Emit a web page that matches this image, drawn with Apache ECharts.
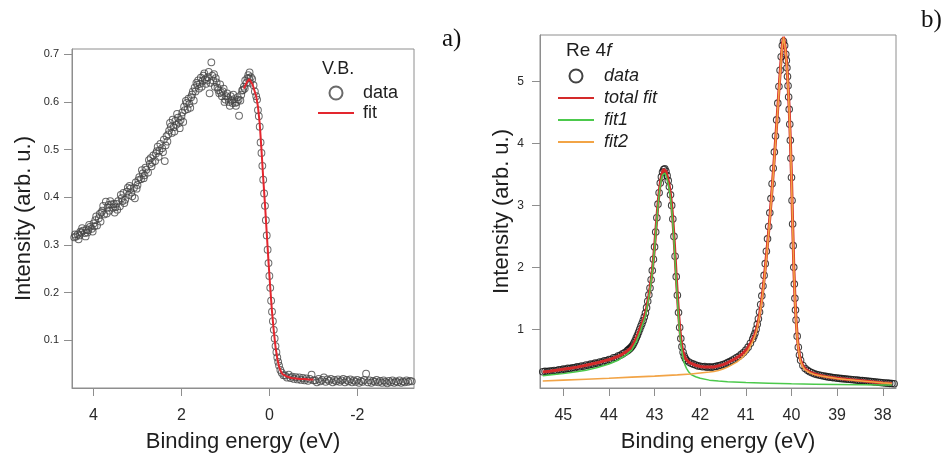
<!DOCTYPE html>
<html>
<head>
<meta charset="utf-8">
<script src="https://cdn.jsdelivr.net/npm/echarts@6/dist/echarts.min.js"></script>
<style>
  html, body { margin: 0; padding: 0; background: #ffffff; }
  #chart { width: 947px; height: 458px; }
</style>
</head>
<body>
<div id="chart"></div>
<script>
// ---- Panel a): valence band spectrum, [binding energy (eV), intensity] ----
const vbData = [
  [4.44,0.316],[4.42,0.322],[4.40,0.318],[4.36,0.322],[4.34,0.312],[4.32,0.320],[4.28,0.326],[4.26,0.335],
  [4.24,0.330],[4.20,0.325],[4.18,0.318],[4.16,0.333],[4.12,0.331],[4.10,0.342],[4.08,0.338],[4.04,0.334],
  [4.02,0.328],[4.00,0.345],[3.96,0.352],[3.94,0.360],[3.92,0.341],[3.88,0.356],[3.86,0.365],[3.84,0.349],
  [3.80,0.372],[3.78,0.382],[3.76,0.364],[3.72,0.391],[3.70,0.366],[3.68,0.378],[3.64,0.372],[3.62,0.392],
  [3.60,0.385],[3.56,0.378],[3.54,0.386],[3.52,0.368],[3.48,0.386],[3.46,0.374],[3.44,0.392],[3.40,0.381],
  [3.38,0.405],[3.36,0.398],[3.32,0.409],[3.30,0.388],[3.28,0.395],[3.24,0.412],[3.22,0.420],[3.20,0.405],
  [3.16,0.418],[3.14,0.410],[3.12,0.402],[3.08,0.420],[3.06,0.398],[3.04,0.431],[3.00,0.426],[2.98,0.436],
  [2.96,0.442],[2.92,0.438],[2.90,0.457],[2.88,0.450],[2.84,0.446],[2.82,0.462],[2.80,0.458],[2.76,0.452],
  [2.74,0.478],[2.72,0.470],[2.68,0.465],[2.66,0.473],[2.64,0.488],[2.60,0.476],[2.58,0.492],[2.56,0.497],
  [2.52,0.485],[2.50,0.498],[2.48,0.512],[2.44,0.503],[2.42,0.495],[2.40,0.521],[2.38,0.476],[2.36,0.509],
  [2.34,0.528],[2.32,0.517],[2.28,0.540],[2.26,0.556],[2.24,0.548],[2.20,0.563],[2.18,0.547],[2.16,0.538],
  [2.12,0.552],[2.10,0.575],[2.08,0.567],[2.04,0.545],[2.02,0.562],[2.00,0.570],[1.96,0.558],[1.94,0.590],
  [1.92,0.583],[1.88,0.598],[1.86,0.585],[1.84,0.607],[1.80,0.588],[1.78,0.610],[1.76,0.615],[1.72,0.603],
  [1.70,0.630],[1.68,0.622],[1.64,0.636],[1.62,0.645],[1.60,0.628],[1.56,0.651],[1.54,0.632],[1.52,0.644],
  [1.48,0.660],[1.46,0.648],[1.44,0.638],[1.40,0.652],[1.38,0.663],[1.36,0.618],[1.32,0.683],[1.30,0.655],
  [1.28,0.645],[1.24,0.632],[1.22,0.650],[1.20,0.641],[1.16,0.625],[1.14,0.618],[1.12,0.637],[1.08,0.612],
  [1.06,0.622],[1.04,0.628],[1.00,0.605],[0.98,0.612],[0.96,0.618],[0.92,0.600],[0.90,0.592],[0.88,0.612],
  [0.84,0.598],[0.82,0.615],[0.80,0.606],[0.76,0.592],[0.74,0.600],[0.72,0.610],[0.69,0.571],[0.66,0.603],
  [0.64,0.615],[0.62,0.624],[0.58,0.632],[0.56,0.628],[0.55,0.645],[0.52,0.640],[0.50,0.650],[0.48,0.656],
  [0.45,0.662],[0.44,0.640],[0.42,0.652],[0.39,0.648],[0.36,0.635],[0.33,0.622],[0.30,0.612],[0.28,0.605],
  [0.26,0.583],[0.24,0.570],[0.22,0.548],[0.20,0.515],[0.18,0.493],[0.16,0.466],[0.14,0.437],[0.12,0.408],
  [0.10,0.382],[0.08,0.352],[0.06,0.320],[0.04,0.290],[0.02,0.262],[0.00,0.235],[-0.02,0.210],[-0.04,0.183],
  [-0.06,0.160],[-0.08,0.140],[-0.10,0.122],[-0.12,0.104],[-0.14,0.088],[-0.16,0.075],[-0.18,0.064],
  [-0.20,0.055],[-0.22,0.047],[-0.25,0.038],[-0.28,0.032],[-0.32,0.027],[-0.36,0.026],[-0.40,0.022],
  [-0.44,0.028],[-0.48,0.021],[-0.52,0.024],[-0.56,0.019],[-0.60,0.023],[-0.64,0.018],[-0.68,0.022],
  [-0.72,0.017],[-0.76,0.021],[-0.80,0.016],[-0.84,0.020],[-0.88,0.015],[-0.92,0.019],[-0.96,0.028],
  [-1.00,0.016],[-1.04,0.016],[-1.08,0.012],[-1.12,0.019],[-1.16,0.014],[-1.20,0.017],[-1.24,0.022],
  [-1.28,0.013],[-1.32,0.018],[-1.36,0.015],[-1.40,0.019],[-1.44,0.012],[-1.48,0.017],[-1.52,0.014],
  [-1.56,0.018],[-1.60,0.013],[-1.64,0.016],[-1.68,0.019],[-1.72,0.012],[-1.76,0.017],[-1.80,0.014],
  [-1.84,0.018],[-1.88,0.012],[-1.92,0.016],[-1.96,0.013],[-2.00,0.017],[-2.04,0.011],[-2.08,0.015],
  [-2.12,0.013],[-2.16,0.017],[-2.20,0.030],[-2.24,0.012],[-2.28,0.016],[-2.32,0.011],[-2.36,0.015],
  [-2.40,0.013],[-2.44,0.017],[-2.48,0.012],[-2.52,0.015],[-2.56,0.011],[-2.60,0.016],[-2.64,0.013],
  [-2.68,0.010],[-2.72,0.015],[-2.76,0.012],[-2.80,0.016],[-2.84,0.011],[-2.88,0.014],[-2.92,0.012],
  [-2.96,0.016],[-3.00,0.011],[-3.04,0.014],[-3.08,0.012],[-3.12,0.016],[-3.16,0.013],[-3.20,0.015],
  [-3.24,0.014],
  [4.30,0.328],[4.14,0.326],[3.98,0.339],[3.82,0.368],[3.66,0.384],[3.50,0.379],[3.34,0.392],[3.18,0.424],
  [3.02,0.418],[2.86,0.440],[2.70,0.482],[2.54,0.506],[2.30,0.532],[2.22,0.535],[2.14,0.560],[2.06,0.556],
  [1.98,0.578],[1.90,0.602],[1.82,0.596],[1.74,0.622],[1.66,0.640],[1.58,0.638],[1.50,0.655],[1.42,0.645],
  [1.34,0.640],[1.26,0.658],[1.18,0.630],[1.10,0.620],[1.02,0.600],[0.94,0.608],[0.86,0.603],[0.78,0.598],
  [0.70,0.605],[0.60,0.625],[0.46,0.650]
];

// Fermi-edge fit
const vbFit = [
  [0.58,0.628],[0.52,0.640],[0.46,0.648],[0.42,0.645],[0.38,0.636],[0.34,0.624],[0.30,0.612],[0.26,0.590],
  [0.22,0.555],[0.18,0.500],[0.14,0.440],[0.10,0.385],[0.06,0.325],[0.02,0.265],[-0.02,0.210],[-0.06,0.160],
  [-0.10,0.120],[-0.14,0.086],[-0.18,0.062],[-0.22,0.045],[-0.26,0.035],[-0.30,0.029],[-0.40,0.024],
  [-0.50,0.021],[-0.60,0.020],[-0.70,0.019],[-0.80,0.019],[-0.90,0.018],[-1.00,0.018]
];

// ---- Panel b): Re 4f core level, [binding energy (eV), intensity] ----
const reData = [
  [45.45,0.315],[45.40,0.322],[45.35,0.318],[45.30,0.328],[45.25,0.325],[45.20,0.336],[45.15,0.332],
  [45.10,0.348],[45.05,0.344],[45.00,0.358],[44.95,0.355],[44.90,0.369],[44.85,0.366],[44.80,0.381],
  [44.75,0.378],[44.70,0.394],[44.65,0.392],[44.60,0.408],[44.55,0.405],[44.50,0.424],[44.45,0.420],
  [44.40,0.438],[44.35,0.436],[44.30,0.455],[44.25,0.452],[44.20,0.473],[44.15,0.470],[44.10,0.492],
  [44.05,0.490],[44.00,0.514],[43.95,0.512],[43.90,0.540],[43.85,0.546],[43.80,0.570],[43.75,0.580],
  [43.70,0.603],[43.65,0.625],
  [43.600,0.652],[43.575,0.668],[43.550,0.684],[43.525,0.700],[43.500,0.722],[43.475,0.748],[43.450,0.782],
  [43.425,0.818],[43.400,0.862],[43.375,0.905],[43.350,0.952],[43.325,1.000],[43.300,1.050],[43.275,1.095],
  [43.250,1.142],[43.225,1.200],[43.200,1.262],[43.175,1.350],[43.150,1.452],[43.125,1.556],[43.100,1.668],
  [43.075,1.800],[43.050,1.948],[43.025,2.130],[43.000,2.330],[42.975,2.570],[42.950,2.800],[42.925,3.020],
  [42.900,3.205],[42.875,3.360],[42.850,3.460],[42.825,3.540],[42.800,3.580],[42.775,3.590],[42.750,3.550],
  [42.725,3.480],[42.700,3.400],[42.675,3.300],[42.650,3.170],[42.625,3.000],[42.600,2.780],[42.575,2.500],
  [42.550,2.180],[42.525,1.850],[42.500,1.550],[42.475,1.270],[42.450,1.030],[42.425,0.850],[42.400,0.720],
  [42.375,0.630],[42.350,0.570],[42.325,0.530],[42.300,0.500],
  [42.25,0.472],[42.20,0.452],[42.15,0.438],[42.10,0.425],[42.05,0.410],[42.00,0.405],[41.95,0.396],
  [41.90,0.398],[41.85,0.388],[41.80,0.394],[41.75,0.386],[41.70,0.395],[41.65,0.402],[41.60,0.412],
  [41.55,0.420],[41.50,0.433],[41.45,0.445],[41.40,0.462],[41.35,0.478],[41.30,0.502],[41.25,0.520],
  [41.20,0.545],[41.15,0.565],[41.10,0.595],[41.05,0.625],[41.00,0.665],[40.95,0.712],[40.90,0.775],
  [40.85,0.845],
  [40.825,0.890],[40.800,0.935],[40.775,1.000],[40.750,1.080],[40.725,1.170],[40.700,1.280],[40.675,1.400],
  [40.650,1.540],[40.625,1.700],[40.600,1.870],[40.575,2.060],[40.550,2.260],[40.525,2.460],[40.500,2.660],
  [40.475,2.880],[40.450,3.110],[40.425,3.350],[40.400,3.600],[40.375,3.860],[40.350,4.120],[40.325,4.380],
  [40.300,4.650],[40.275,4.920],[40.250,5.180],[40.225,5.400],[40.200,5.580],[40.175,5.650],[40.150,5.580],
  [40.125,5.440],[40.1125,5.340],[40.100,5.220],[40.0875,5.080],[40.075,4.930],[40.0625,4.750],[40.050,4.550],
  [40.0375,4.310],[40.025,4.050],[40.0125,3.760],[40.000,3.450],[39.9875,3.080],[39.975,2.700],[39.9625,2.350],
  [39.950,2.000],[39.9375,1.730],[39.925,1.500],[39.9125,1.310],[39.900,1.150],[39.875,0.890],[39.850,0.710],
  [39.825,0.585],[39.800,0.500],
  [39.75,0.415],[39.70,0.368],[39.65,0.338],[39.60,0.315],[39.55,0.298],[39.50,0.284],[39.45,0.272],
  [39.40,0.262],[39.35,0.255],[39.30,0.247],[39.25,0.240],[39.20,0.232],[39.15,0.228],[39.10,0.221],
  [39.05,0.218],[39.00,0.212],[38.95,0.209],[38.90,0.204],[38.85,0.201],[38.80,0.197],[38.75,0.194],
  [38.70,0.190],[38.65,0.187],[38.60,0.182],[38.55,0.180],[38.50,0.175],[38.45,0.172],[38.40,0.168],
  [38.35,0.165],[38.30,0.160],[38.25,0.157],[38.20,0.152],[38.15,0.150],[38.10,0.145],[38.05,0.141],
  [38.00,0.137],[37.95,0.134],[37.90,0.131],[37.85,0.128],[37.80,0.125],[37.75,0.122]
];

const reTotalFit = [
  [45.45,0.31],[45.3,0.322],[45.15,0.338],[45.0,0.355],[44.85,0.372],[44.7,0.39],[44.55,0.412],[44.4,0.435],
  [44.25,0.46],[44.1,0.49],[43.95,0.522],[43.8,0.565],[43.7,0.60],[43.6,0.65],[43.55,0.68],[43.5,0.72],
  [43.45,0.78],[43.4,0.86],[43.35,0.95],[43.3,1.05],[43.25,1.14],[43.2,1.26],[43.175,1.35],[43.15,1.45],
  [43.125,1.55],[43.1,1.67],[43.075,1.80],[43.05,1.95],[43.025,2.13],[43.0,2.33],[42.975,2.57],[42.95,2.80],
  [42.925,3.02],[42.9,3.21],[42.875,3.36],[42.85,3.46],[42.825,3.54],[42.8,3.58],[42.775,3.59],[42.75,3.55],
  [42.725,3.48],[42.7,3.40],[42.675,3.30],[42.65,3.17],[42.625,3.00],[42.6,2.78],[42.575,2.50],[42.55,2.18],
  [42.525,1.85],[42.5,1.55],[42.475,1.27],[42.45,1.03],[42.425,0.85],[42.4,0.72],[42.375,0.63],[42.35,0.57],
  [42.325,0.53],[42.3,0.50],[42.25,0.47],[42.2,0.45],[42.1,0.42],[42.0,0.40],[41.9,0.39],[41.8,0.39],
  [41.7,0.39],[41.6,0.41],[41.5,0.43],[41.4,0.46],[41.3,0.50],[41.2,0.54],[41.1,0.59],[41.0,0.66],
  [40.95,0.71],[40.9,0.77],[40.85,0.84],[40.8,0.92],[40.775,0.98],[40.75,1.05],[40.725,1.14],[40.7,1.24],
  [40.675,1.36],[40.65,1.49],[40.625,1.64],[40.6,1.81],[40.575,1.99],[40.55,2.18],[40.525,2.38],[40.5,2.58],
  [40.475,2.80],[40.45,3.03],[40.425,3.27],[40.4,3.52],[40.375,3.78],[40.35,4.04],[40.325,4.30],[40.3,4.58],
  [40.275,4.86],[40.25,5.13],[40.225,5.38],[40.2,5.60],[40.175,5.72],[40.15,5.62],[40.125,5.46],[40.1,5.24],
  [40.075,4.94],[40.05,4.56],[40.025,4.06],[40.0,3.46],[39.975,2.72],[39.95,2.02],[39.925,1.52],[39.9,1.16],
  [39.875,0.89],[39.85,0.71],[39.825,0.58],[39.8,0.50],[39.75,0.41],[39.7,0.36],[39.6,0.31],[39.5,0.28],
  [39.4,0.26],[39.3,0.245],[39.2,0.23],[39.0,0.21],[38.8,0.195],[38.6,0.18],[38.4,0.165],[38.2,0.15],
  [38.0,0.135],[37.8,0.125]
];

// Component of the higher binding-energy line
const reFit1 = [
  [45.45,0.25],[45.2,0.27],[45.0,0.285],[44.75,0.31],[44.5,0.34],[44.25,0.385],[44.0,0.44],[43.8,0.50],
  [43.7,0.55],[43.6,0.60],[43.5,0.665],[43.4,0.80],[43.3,0.99],[43.2,1.21],[43.15,1.41],[43.1,1.63],
  [43.05,1.92],[43.0,2.30],[42.975,2.54],[42.95,2.77],[42.925,2.99],[42.9,3.18],[42.875,3.32],[42.85,3.42],
  [42.825,3.49],[42.8,3.52],[42.775,3.52],[42.75,3.48],[42.725,3.42],[42.7,3.34],[42.675,3.24],[42.65,3.11],
  [42.625,2.94],[42.6,2.72],[42.575,2.44],[42.55,2.12],[42.525,1.79],[42.5,1.48],[42.475,1.20],[42.45,0.96],
  [42.425,0.78],[42.4,0.64],[42.375,0.54],[42.35,0.46],[42.325,0.41],[42.3,0.37],[42.25,0.31],[42.2,0.27],
  [42.1,0.235],[42.0,0.21],[41.8,0.18],[41.6,0.165],[41.4,0.155],[41.0,0.14],[40.5,0.13],[40.0,0.12],
  [39.5,0.115],[39.0,0.11],[38.5,0.105],[38.0,0.10],[37.8,0.10]
];

// Component of the lower binding-energy line
const reFit2 = [
  [45.45,0.165],[45.0,0.18],[44.5,0.195],[44.0,0.21],[43.5,0.228],[43.0,0.245],[42.5,0.265],[42.2,0.28],
  [42.0,0.295],[41.8,0.31],[41.7,0.32],[41.6,0.335],[41.5,0.36],[41.4,0.39],[41.3,0.43],[41.2,0.47],
  [41.1,0.53],[41.0,0.61],[40.95,0.66],[40.9,0.73],[40.85,0.80],[40.8,0.89],[40.775,0.95],[40.75,1.02],
  [40.725,1.11],[40.7,1.21],[40.675,1.33],[40.65,1.46],[40.625,1.61],[40.6,1.78],[40.575,1.96],[40.55,2.15],
  [40.525,2.35],[40.5,2.56],[40.475,2.78],[40.45,3.01],[40.425,3.25],[40.4,3.50],[40.375,3.76],[40.35,4.02],
  [40.325,4.28],[40.3,4.56],[40.275,4.84],[40.25,5.11],[40.225,5.36],[40.2,5.58],[40.175,5.71],[40.15,5.61],
  [40.125,5.45],[40.1,5.22],[40.075,4.92],[40.05,4.54],[40.025,4.04],[40.0,3.44],[39.975,2.70],[39.95,2.00],
  [39.925,1.50],[39.9,1.14],[39.875,0.87],[39.85,0.69],[39.825,0.57],[39.8,0.48],[39.75,0.39],[39.7,0.345],
  [39.6,0.30],[39.5,0.27],[39.4,0.255],[39.3,0.24],[39.2,0.228],[39.0,0.205],[38.8,0.19],[38.6,0.176],
  [38.4,0.163],[38.2,0.15],[38.0,0.135],[37.8,0.125]
];

// Tick positions
const vbXTicks = [4, 2, 0, -2];
const vbYTicks = [0.1, 0.2, 0.3, 0.4, 0.5, 0.6, 0.7];
const reXTicks = [45, 44, 43, 42, 41, 40, 39, 38];
const reYTicks = [1, 2, 3, 4, 5];

const SANS = '"Liberation Sans", Arial, Helvetica, sans-serif';
const SERIF = '"Liberation Serif", "DejaVu Serif", serif';
const FRAME = '#8e8e8e';
const TEXT = '#2a2a2a';

function xAxisOf(gridIndex, min, max, ticks) {
  return {
    type: 'value', gridIndex, min, max, inverse: true,
    name: 'Binding energy (eV)', nameLocation: 'middle', nameGap: 43,
    nameTextStyle: { fontFamily: SANS, fontSize: 22, color: '#1e1e1e' },
    axisLine: { show: true, onZero: false, lineStyle: { color: FRAME, width: 1 } },
    axisTick: { show: true, inside: false, length: 8, customValues: ticks, lineStyle: { color: FRAME } },
    axisLabel: { customValues: ticks, margin: 20, fontFamily: SANS, fontSize: 16, color: TEXT },
    splitLine: { show: false }
  };
}
function yAxisOf(gridIndex, min, max, ticks, fontSize, margin, nameGap) {
  return {
    type: 'value', gridIndex, min, max,
    name: 'Intensity (arb. u.)', nameLocation: 'middle', nameGap, nameRotate: 90,
    nameTextStyle: { fontFamily: SANS, fontSize: 22, color: '#1e1e1e' },
    axisLine: { show: true, onZero: false, lineStyle: { color: FRAME, width: 1 } },
    axisTick: { show: true, inside: false, length: 8, customValues: ticks, lineStyle: { color: FRAME } },
    axisLabel: { customValues: ticks, margin, fontFamily: SANS, fontSize, color: TEXT },
    splitLine: { show: false }
  };
}

// legend entries for fit curves show the line only
const lineOnly = name => ({ name, itemStyle: { opacity: 0 } });

const chart = echarts.init(document.getElementById('chart'), null, { renderer: 'canvas' });

chart.setOption({
  animation: false,
  backgroundColor: '#ffffff',
  grid: [
    { left: 72, top: 49, width: 342, height: 342, show: true, borderColor: FRAME, borderWidth: 1, backgroundColor: 'transparent' },
    { left: 540, top: 35, width: 356, height: 355, show: true, borderColor: FRAME, borderWidth: 1, backgroundColor: 'transparent' }
  ],
  xAxis: [
    xAxisOf(0, -3.29, 4.49, vbXTicks),
    xAxisOf(1, 37.71, 45.51, reXTicks)
  ],
  yAxis: [
    yAxisOf(0, 0, 0.711, vbYTicks, 11, 13, 37),
    yAxisOf(1, 0.053, 5.75, reYTicks, 12, 16, 26)
  ],
  title: [
    { text: 'V.B.', left: 322, top: 60, padding: 0,
      textStyle: { fontFamily: SANS, fontSize: 18, fontWeight: 'normal', color: '#1e1e1e' } },
    { text: '{r|Re 4}{i|f}', left: 566, top: 41, padding: 0,
      textStyle: { fontFamily: SANS, fontSize: 19, fontWeight: 'normal', color: '#1e1e1e',
        rich: { r: { fontFamily: SANS, fontSize: 19, color: '#1e1e1e' },
                i: { fontFamily: SANS, fontSize: 19, fontStyle: 'italic', color: '#1e1e1e' } } } }
  ],
  legend: [
    { data: ['data', lineOnly('fit')], orient: 'vertical', left: 317, top: 84, itemWidth: 36, itemHeight: 13,
      itemGap: 2, selectedMode: false, padding: 0,
      textStyle: { fontFamily: SANS, fontSize: 18, color: '#1e1e1e', padding: [0, 0, 0, 4] } },
    { data: ['Re data', lineOnly('total fit'), lineOnly('fit1'), lineOnly('fit2')], orient: 'vertical',
      left: 557, top: 67, itemWidth: 36, itemHeight: 13, itemGap: 4, selectedMode: false, padding: 0,
      formatter: name => (name === 'Re data' ? 'data' : name),
      textStyle: { fontFamily: SANS, fontSize: 18, fontStyle: 'italic', color: '#1e1e1e', padding: [0, 0, 0, 5] } }
  ],
  graphic: [
    { type: 'text', left: 442, top: 27, style: { text: 'a)', font: '25px ' + SERIF, fill: '#111' } },
    { type: 'text', left: 921, top: 8, style: { text: 'b)', font: '25px ' + SERIF, fill: '#111' } }
  ],
  series: [
    { name: 'data', type: 'scatter', xAxisIndex: 0, yAxisIndex: 0, data: vbData,
      symbol: 'circle', symbolSize: 6.8, z: 2,
      itemStyle: { color: 'rgba(0,0,0,0)', borderColor: '#454545', borderWidth: 1 } },
    { name: 'fit', type: 'line', xAxisIndex: 0, yAxisIndex: 0, data: vbFit,
      symbol: 'none', z: 3,
      itemStyle: { color: '#e3262e' }, lineStyle: { color: '#e3262e', width: 2 } },
    { name: 'Re data', type: 'scatter', xAxisIndex: 1, yAxisIndex: 1, data: reData,
      symbol: 'circle', symbolSize: 6.5, z: 2,
      itemStyle: { color: 'rgba(0,0,0,0)', borderColor: '#141414', borderWidth: 1.1 } },
    { name: 'total fit', type: 'line', xAxisIndex: 1, yAxisIndex: 1, data: reTotalFit,
      symbol: 'none', z: 3,
      itemStyle: { color: '#d42a2a' }, lineStyle: { color: '#d42a2a', width: 3 } },
    { name: 'fit1', type: 'line', xAxisIndex: 1, yAxisIndex: 1, data: reFit1,
      symbol: 'none', z: 4,
      itemStyle: { color: '#4cc94c' }, lineStyle: { color: '#4cc94c', width: 1.5 } },
    { name: 'fit2', type: 'line', xAxisIndex: 1, yAxisIndex: 1, data: reFit2,
      symbol: 'none', z: 5,
      itemStyle: { color: '#f2a446' }, lineStyle: { color: '#f2a446', width: 1.6 } }
  ]
});
</script>
</body>
</html>
